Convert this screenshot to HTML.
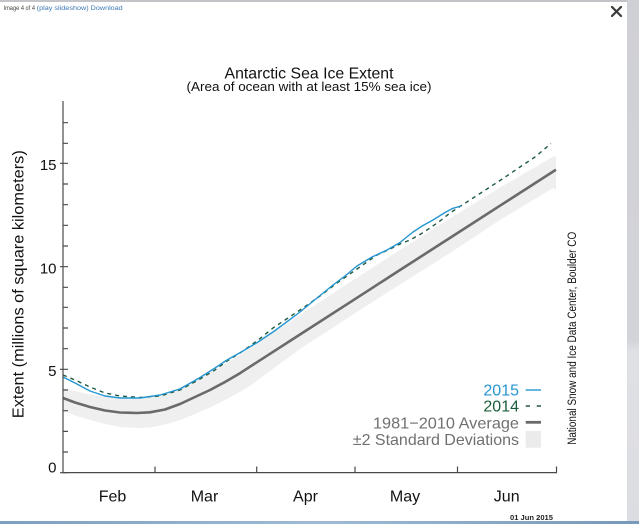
<!DOCTYPE html>
<html><head><meta charset="utf-8"><style>
html,body{margin:0;padding:0;background:#fff;}
svg{display:block;}
text{font-family:"Liberation Sans",sans-serif;}
</style></head><body>
<svg width="639" height="524" viewBox="0 0 639 524" xmlns="http://www.w3.org/2000/svg">
<rect x="0" y="0" width="639" height="524" fill="#fff"/>
<rect x="0" y="0" width="639" height="2" fill="#c4c4c8"/>
<defs>
<linearGradient id="sb" x1="0" y1="0" x2="0" y2="1">
<stop offset="0" stop-color="#cfd0d6"/><stop offset="0.65" stop-color="#d3d4da"/><stop offset="0.67" stop-color="#dfe0e4"/><stop offset="1" stop-color="#dcdde2"/>
</linearGradient>
<linearGradient id="bb" x1="0" y1="0" x2="1" y2="0">
<stop offset="0" stop-color="#7d9fc2"/><stop offset="0.5" stop-color="#9ebad6"/><stop offset="1" stop-color="#7698bb"/>
</linearGradient>
</defs>
<rect x="627" y="0" width="12" height="524" fill="url(#sb)"/>
<rect x="0" y="521" width="639" height="3" fill="url(#bb)"/>

<text x="3.5" y="10" font-size="6.8" fill="#444" textLength="31.5" lengthAdjust="spacingAndGlyphs">Image 4 of 4</text>
<text x="36.7" y="10" font-size="6.8" fill="#3c78b4" textLength="52" lengthAdjust="spacingAndGlyphs">(play slideshow)</text>
<text x="90.7" y="10" font-size="6.8" fill="#3c78b4" textLength="32" lengthAdjust="spacingAndGlyphs">Download</text>
<path d="M612 7 L621 16 M621 7 L612 16" stroke="#3a3a3a" stroke-width="2.2" stroke-linecap="round"/>

<text x="309" y="78.5" font-size="16" text-anchor="middle" fill="#111" textLength="169" lengthAdjust="spacingAndGlyphs">Antarctic Sea Ice Extent</text>
<text x="309" y="90.8" font-size="13" text-anchor="middle" fill="#111" textLength="245" lengthAdjust="spacingAndGlyphs">(Area of ocean with at least 15% sea ice)</text>

<path fill="#efefef" d="M63 388 L75 391 L90 394.5 L105 396.5 L120 397.5 L137 398 L150 397 L165 393.5 L180 387 L195 380 L210 372.5 L225 364 L240 355 L250 348 L300 315 L350 282 L400 250 L450 218.5 L500 187.5 L553 156.7 L556 156 L556 190 L553 188 L500 220 L450 253 L400 284.5 L350 316.5 L300 349 L250 385.7 L240 392 L225 400 L210 407.5 L195 414 L180 420 L165 424.5 L150 427.5 L137 428 L120 427 L105 424 L90 420 L75 415.5 L63 411 Z"/>

<polyline fill="none" stroke="#6a6a6a" stroke-width="2.6" stroke-linejoin="round" stroke-linecap="butt"
points="63,398 75,402.5 90,407 105,410.5 120,412.5 137,413 150,412.3 165,409.5 180,404 195,397 210,390 225,382 240,373.2 250,366.7 300,334.5 350,302.3 400,270 450,237.9 500,205.7 553,171.6 556,169.7"/>

<polyline fill="none" stroke="#1d5a3e" stroke-width="1.4" stroke-dasharray="4,4" stroke-linejoin="round"
points="63,375 75,380 90,387 105,393 120,396 140,397.5 160,396 180,390 200,379 215,370 227,361 240,353 250,346 262,337 273,328 288,318 303,308 320,296 337,283 357,269 377,255 390,249 400,244 410,240 420,234.5 430,228 440,221 450,213 463,204.5 480,193.5 500,180.5 520,167 535,157 551,143.5"/>

<polyline fill="none" stroke="#2596d1" stroke-width="1.4" stroke-linejoin="round"
points="63,377 75,383 90,391 105,396 120,398 140,398 160,395 180,389 200,377.5 215,368 227,360 243,351 258,342 273,332 288,321 300,312 317,298 333,285 345,276 357,266 372,257 387,250 400,242.5 413,232 423,225.5 433,220 445,212.5 453,208.3 461,206"/>

<g stroke="#4a4a4a" stroke-width="1.2" fill="none">
<line x1="63" y1="101" x2="63" y2="473"/>
<line x1="62.4" y1="472.6" x2="557" y2="472.6"/>
<line x1="155" y1="472.6" x2="155" y2="466.5"/>
<line x1="256.7" y1="472.6" x2="256.7" y2="466.5"/>
<line x1="355" y1="472.6" x2="355" y2="466.5"/>
<line x1="457.5" y1="472.6" x2="457.5" y2="466.5"/>
<line x1="556.5" y1="472.6" x2="556.5" y2="466.5"/>
<path d="M63 452 h5 M63 431.4 h5 M63 410.7 h5 M63 390 h5 M63 348.7 h5 M63 328 h5 M63 307.3 h5 M63 287.3 h5 M63 246 h5 M63 225.3 h5 M63 204.7 h5 M63 184 h5 M63 143.3 h5 M63 122.7 h5"/>
<path d="M60 472.7 h8 M60 369.3 h8 M60 266.7 h8 M60 163.3 h8"/>
</g>

<g font-size="15" fill="#111" text-anchor="end">
<text x="56.5" y="170">15</text>
<text x="56.5" y="273.3">10</text>
<text x="56.5" y="376">5</text>
<text x="56.5" y="472.5">0</text>
</g>
<text transform="translate(23.5,284.2) rotate(-90)" font-size="16" text-anchor="middle" fill="#111" textLength="268" lengthAdjust="spacingAndGlyphs">Extent (millions of square kilometers)</text>

<g font-size="16" fill="#111" text-anchor="middle">
<text x="112.5" y="501.7">Feb</text>
<text x="204.5" y="501.7">Mar</text>
<text x="305.5" y="501.7">Apr</text>
<text x="405" y="501.7">May</text>
<text x="506.7" y="501.7">Jun</text>
</g>

<g font-size="16" text-anchor="end">
<text x="519" y="395.7" fill="#2596d1">2015</text>
<text x="519" y="411.7" fill="#1b5e3b">2014</text>
<text x="519" y="428.3" fill="#707070" textLength="146" lengthAdjust="spacingAndGlyphs">1981−2010 Average</text>
<text x="519" y="445" fill="#707070">±2 Standard Deviations</text>
</g>
<line x1="525.7" y1="390" x2="541" y2="390" stroke="#2596d1" stroke-width="1.4"/>
<line x1="525.7" y1="406" x2="530" y2="406" stroke="#1d4a36" stroke-width="1.4"/>
<line x1="536.7" y1="406" x2="541" y2="406" stroke="#1d4a36" stroke-width="1.4"/>
<line x1="525.7" y1="422.3" x2="541" y2="422.3" stroke="#6a6a6a" stroke-width="2.8"/>
<rect x="525.7" y="431" width="15.3" height="16.7" fill="#ebebeb"/>

<text transform="translate(576,338.3) rotate(-90)" font-size="11.5" text-anchor="middle" fill="#111" textLength="213" lengthAdjust="spacingAndGlyphs">National Snow and Ice Data Center, Boulder CO</text>
<text x="531.5" y="520" font-size="7" font-weight="bold" text-anchor="middle" fill="#222" textLength="43" lengthAdjust="spacingAndGlyphs">01 Jun 2015</text>
</svg>
</body></html>
